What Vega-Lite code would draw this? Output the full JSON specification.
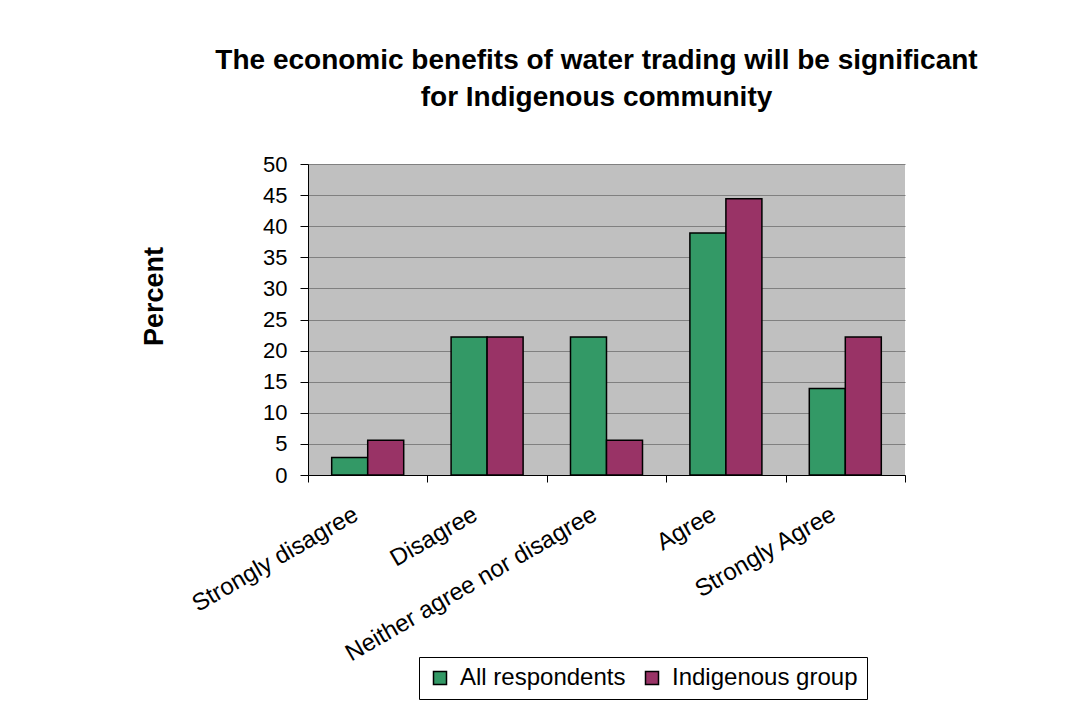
{
  "$schema": "https://vega.github.io/schema/vega-lite/v6.json",
  "autosize": {"type": "none"},
  "width": 597,
  "height": 311,
  "padding": {"left": 308, "top": 164, "right": 181, "bottom": 236},
  "background": "white",
  "title": {
    "text": ["The economic benefits of water trading will be significant", "for Indigenous community"],
    "font": "Liberation Sans",
    "fontSize": 28,
    "fontWeight": "bold",
    "color": "black",
    "anchor": "middle",
    "lineHeight": 37,
    "offset": 41,
    "dx": -10
  },
  "data": {
    "values": [
      {"response": "Strongly disagree", "group": "All respondents", "percent": 2.8},
      {"response": "Strongly disagree", "group": "Indigenous group", "percent": 5.6},
      {"response": "Disagree", "group": "All respondents", "percent": 22.2},
      {"response": "Disagree", "group": "Indigenous group", "percent": 22.2},
      {"response": "Neither agree nor disagree", "group": "All respondents", "percent": 22.2},
      {"response": "Neither agree nor disagree", "group": "Indigenous group", "percent": 5.6},
      {"response": "Agree", "group": "All respondents", "percent": 38.9},
      {"response": "Agree", "group": "Indigenous group", "percent": 44.4},
      {"response": "Strongly Agree", "group": "All respondents", "percent": 13.9},
      {"response": "Strongly Agree", "group": "Indigenous group", "percent": 22.2}
    ]
  },
  "mark": {"type": "bar", "stroke": "black", "strokeWidth": 1.5},
  "encoding": {
    "x": {
      "field": "response",
      "type": "nominal",
      "sort": ["Strongly disagree", "Disagree", "Neither agree nor disagree", "Agree", "Strongly Agree"],
      "scale": {"paddingInner": 0, "paddingOuter": 0},
      "axis": {
        "title": null,
        "labelAngle": -30,
        "labelAlign": "right",
        "labelBaseline": "top",
        "labelFont": "Liberation Sans",
        "labelFontSize": 24,
        "labelColor": "black",
        "labelPadding": 20,
        "labelOffset": -18,
        "tickBand": "extent",
        "tickSize": 7,
        "tickColor": "black",
        "domainColor": "black",
        "grid": false,
        "labelLimit": 400
      }
    },
    "xOffset": {
      "field": "group",
      "type": "nominal",
      "scale": {"paddingInner": 0, "paddingOuter": 0.658}
    },
    "y": {
      "field": "percent",
      "type": "quantitative",
      "scale": {"domain": [0, 50], "nice": false},
      "axis": {
        "title": "Percent",
        "titleFont": "Liberation Sans",
        "titleFontSize": 27,
        "titleFontWeight": "bold",
        "titleColor": "black",
        "titlePadding": 94,
        "titleY": 132,
        "values": [0, 5, 10, 15, 20, 25, 30, 35, 40, 45, 50],
        "labelFont": "Liberation Sans",
        "labelFontSize": 22,
        "labelColor": "black",
        "labelPadding": 13,
        "tickSize": 8,
        "tickColor": "black",
        "domainColor": "black",
        "gridColor": "#808080",
        "gridWidth": 1,
        "gridOpacity": 1
      }
    },
    "color": {
      "field": "group",
      "type": "nominal",
      "scale": {"domain": ["All respondents", "Indigenous group"], "range": ["#339966", "#993366"]},
      "legend": {
        "title": null,
        "orient": "none",
        "legendX": 111,
        "legendY": 493,
        "direction": "horizontal",
        "strokeColor": "black",
        "fillColor": "white",
        "padding": 9,
        "symbolType": "square",
        "symbolSize": 169,
        "symbolStrokeColor": "black",
        "symbolStrokeWidth": 1.5,
        "symbolOpacity": 1,
        "labelFont": "Liberation Sans",
        "labelFontSize": 24,
        "labelColor": "black",
        "labelOffset": 8,
        "columnPadding": 14,
        "labelLimit": 300
      }
    }
  },
  "config": {
    "view": {"fill": "#C0C0C0", "stroke": null}
  }
}
